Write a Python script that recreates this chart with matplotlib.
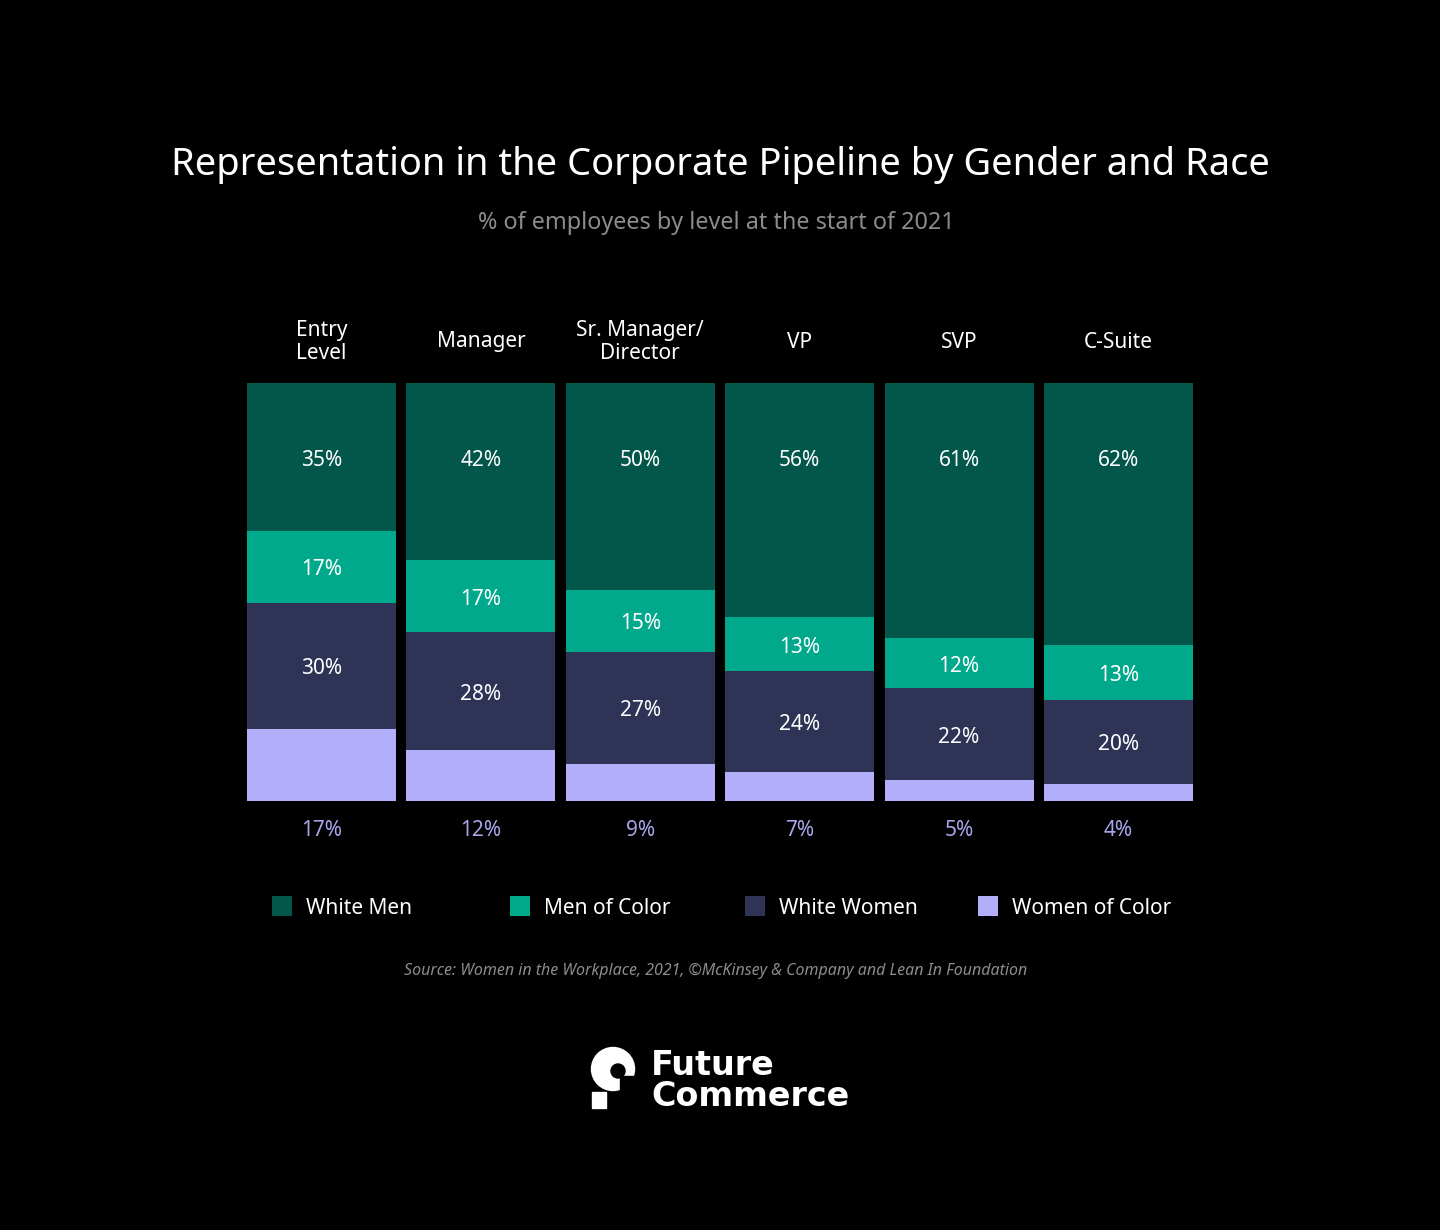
import matplotlib
matplotlib.use("Agg")
import matplotlib.pyplot as plt
from matplotlib.patches import Rectangle, Circle
import numpy as np

# ---- data ----
categories = ["Entry\nLevel", "Manager", "Sr. Manager/\nDirector", "VP", "SVP", "C-Suite"]
series_names = ["White Men", "Men of Color", "White Women", "Women of Color"]
white_men = [35, 42, 50, 56, 61, 62]
men_of_color = [17, 17, 15, 13, 12, 13]
white_women = [30, 28, 27, 24, 22, 20]
women_of_color = [17, 12, 9, 7, 5, 4]
colors = ["#03574A", "#00A98B", "#2F3356", "#B3AEFA"]

W, H = 1440, 1230
FONT = "Noto Sans"
plt.rcParams["font.family"] = [FONT, "DejaVu Sans"]

fig = plt.figure(figsize=(W / 100, H / 100), dpi=100, facecolor="black")

def fx(px):
    return px / W

def fy(py):
    return 1 - py / H

PXU = 4.18  # pixels per data unit
DY = 3 / PXU  # small visual offset for text centring

bw = 149 / 159.4
left_px, right_px, top_px, bot_px = 247, 1193, 383, 801
ax = fig.add_axes([fx(left_px), fy(bot_px), (right_px - left_px) / W, (bot_px - top_px) / H])
ax.set_facecolor("black")
ax.set_xlim(-bw / 2, len(categories) - 1 + bw / 2)
ax.set_ylim(0, 100)
ax.axis("off")

x = np.arange(len(categories))
data = np.array([white_men, men_of_color, white_women, women_of_color], dtype=float)
totals = data.sum(axis=0)
norm = data / totals * 100

order = [3, 2, 1, 0]
bottom = np.zeros(len(categories))
bottoms = {}
for k in order:
    ax.bar(x, norm[k], bw, bottom=bottom, color=colors[k], linewidth=0)
    bottoms[k] = bottom.copy()
    bottom = bottom + norm[k]

for i in range(len(categories)):
    ax.text(x[i], 100 - 74 / PXU - DY, f"{white_men[i]}%", ha="center", va="center",
            color="white", fontsize=15)
    for k in (1, 2):
        yc = bottoms[k][i] + norm[k][i] / 2 - DY
        ax.text(x[i], yc, f"{int(data[k][i])}%", ha="center", va="center",
                color="white", fontsize=15)
    ax.text(x[i], -26 / PXU - DY, f"{women_of_color[i]}%", ha="center", va="center",
            color="#A9A4EC", fontsize=15, clip_on=False)
    ax.text(x[i], 100 + 44 / PXU - DY, categories[i], ha="center", va="center",
            color="white", fontsize=15, linespacing=1.12, clip_on=False)

fig.text(0.5, fy(165), "Representation in the Corporate Pipeline by Gender and Race",
         ha="center", va="center", color="white", fontsize=27.4)
fig.text(fx(716), fy(223), "% of employees by level at the start of 2021",
         ha="center", va="center", color="#8C8C8C", fontsize=16.8)

leg_x = [272, 510, 745, 978]
for k, lx in enumerate(leg_x):
    fig.patches.append(Rectangle((fx(lx), fy(916)), 20 / W, 20 / H, transform=fig.transFigure,
                                 facecolor=colors[k], edgecolor="none"))
    fig.text(fx(lx + 34), fy(909), series_names[k], ha="left", va="center",
             color="white", fontsize=15)

fig.text(fx(716), fy(971), "Source: Women in the Workplace, 2021, \u00a9McKinsey & Company and Lean In Foundation",
         ha="center", va="center", color="#8C8C8C", fontsize=11.5, style="italic")

# logo
lax = fig.add_axes([0, 0, 1, 1], facecolor="none")
lax.set_xlim(0, W)
lax.set_ylim(H, 0)
lax.axis("off")
lax.add_patch(Circle((613, 1069), 21.5, color="white"))
lax.add_patch(Rectangle((620, 1076), 20, 20, color="black"))
lax.add_patch(Circle((618, 1071), 7, color="black"))
lax.add_patch(Rectangle((592, 1092), 14, 16, color="white"))
lax.text(651, 1081, "Future\nCommerce", ha="left", va="center", color="white", fontsize=24,
         fontweight="heavy", family="DejaVu Sans", linespacing=0.95)

fig.savefig("out.png", dpi=100, facecolor="black")
